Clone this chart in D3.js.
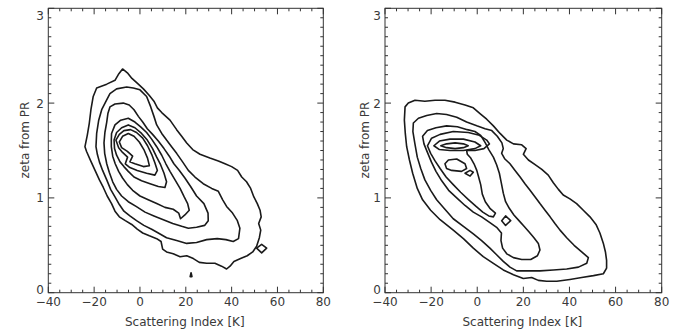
<!DOCTYPE html>
<html><head><meta charset="utf-8">
<script src="https://cdn.jsdelivr.net/npm/d3@7"></script>
<style>body{margin:0;background:#fff}svg{display:block}</style>
</head><body>
<svg id="c" width="684" height="335"></svg>
<script>
// ---------- data (x = Scattering Index [K], y = zeta from PR) ----------
const xTicks = [-40, -20, 0, 20, 40, 60, 80];
const yTicks = [0, 1, 2, 3];
const xTitle = "Scattering Index [K]";
const yTitle = "zeta from PR";

// left panel contour lines (closed)
const L1 = [[-24.0,1.54],[-23.0,1.66],[-22.1,1.79],[-21.4,1.93],[-20.4,2.07],[-18.9,2.16],[-14.5,2.20],[-10.9,2.24],[-9.2,2.31],[-7.6,2.36],[-5.5,2.32],[-3.5,2.26],[-1.2,2.21],[1.5,2.15],[4.1,2.08],[6.1,2.02],[7.6,1.95],[9.5,1.90],[13.1,1.82],[16.0,1.72],[18.2,1.65],[20.4,1.58],[23.0,1.51],[26.2,1.46],[30.5,1.42],[34.2,1.39],[37.1,1.36],[40.0,1.33],[42.6,1.29],[44.4,1.22],[46.5,1.17],[48.3,1.10],[49.7,1.01],[51.2,0.94],[52.4,0.87],[52.9,0.80],[51.8,0.73],[52.7,0.66],[52.1,0.58],[50.9,0.49],[49.2,0.43],[46.8,0.39],[43.9,0.36],[41.0,0.33],[39.3,0.28],[37.8,0.25],[35.6,0.28],[32.7,0.31],[29.1,0.31],[25.9,0.32],[23.3,0.36],[20.4,0.39],[17.5,0.38],[14.5,0.41],[11.6,0.43],[9.9,0.46],[9.2,0.54],[7.3,0.57],[4.1,0.60],[1.2,0.63],[-1.2,0.67],[-3.6,0.72],[-6.4,0.76],[-9.0,0.80],[-10.9,0.86],[-12.4,0.94],[-14.3,1.02],[-16.0,1.11],[-17.7,1.19],[-19.6,1.29],[-21.5,1.39],[-23.3,1.49]];
const L2 = [[-19.2,1.54],[-18.9,1.68],[-18.0,1.82],[-16.7,1.93],[-14.8,2.02],[-13.1,2.10],[-10.2,2.15],[-5.8,2.17],[-2.9,2.16],[0,2.14],[2.9,2.07],[4.7,1.96],[6.1,1.86],[7.3,1.77],[9.5,1.68],[11.6,1.61],[13.8,1.54],[16.0,1.47],[18.6,1.38],[21.1,1.29],[24.0,1.22],[27.6,1.15],[31.3,1.10],[34.2,1.07],[36.1,0.98],[37.8,0.91],[40.4,0.84],[42.5,0.76],[43.6,0.68],[43.0,0.57],[40.7,0.54],[37.5,0.56],[33.7,0.57],[29.1,0.56],[24.7,0.53],[20.4,0.52],[16.0,0.55],[11.6,0.58],[8.0,0.63],[5.1,0.67],[1.7,0.71],[-1.5,0.76],[-4.4,0.81],[-7.0,0.86],[-9.0,0.93],[-10.9,1.01],[-12.8,1.09],[-14.5,1.19],[-16.3,1.29],[-17.7,1.38],[-18.6,1.46]];
const L3 = [[-13.1,1.96],[-10.9,1.99],[-7.3,2.00],[-4.7,1.98],[-2.6,1.93],[-0.7,1.86],[1.2,1.80],[3.2,1.73],[5.5,1.67],[8.0,1.60],[10.5,1.52],[12.8,1.44],[14.8,1.36],[17.2,1.29],[19.6,1.21],[22.1,1.12],[24.7,1.02],[27.9,0.94],[29.7,0.84],[29.8,0.76],[28.2,0.71],[24.7,0.69],[21.1,0.68],[18.2,0.70],[14.3,0.73],[10.2,0.77],[6.1,0.81],[2.2,0.85],[-1.7,0.91],[-5.1,0.96],[-8.0,1.02],[-10.2,1.09],[-11.9,1.17],[-13.4,1.27],[-14.5,1.36],[-15.4,1.47],[-15.7,1.58],[-15.3,1.69],[-14.5,1.80],[-14.0,1.89]];
const L4 = [[-12.4,1.68],[-10.9,1.77],[-8.4,1.82],[-5.1,1.84],[-2.2,1.80],[0.3,1.75],[2.9,1.69],[5.1,1.62],[7.3,1.54],[9.5,1.45],[11.3,1.36],[13.1,1.28],[15.3,1.19],[17.5,1.10],[19.3,1.01],[20.8,0.94],[21.5,0.87],[19.6,0.82],[17.7,0.78],[16.9,0.84],[14.5,0.88],[10.9,0.90],[7.3,0.94],[3.6,0.98],[0,1.02],[-3.2,1.08],[-5.5,1.14],[-7.6,1.21],[-9.3,1.28],[-10.8,1.36],[-11.9,1.44],[-12.5,1.54],[-12.5,1.61]];
const L5 = [[-11.3,1.61],[-10.2,1.69],[-8.0,1.74],[-5.1,1.77],[-2.2,1.74],[0.7,1.68],[3.2,1.61],[5.5,1.52],[7.3,1.43],[9.0,1.35],[10.5,1.26],[11.6,1.17],[10.9,1.11],[8.0,1.12],[4.4,1.15],[0.7,1.18],[-2.6,1.22],[-5.1,1.28],[-7.0,1.33],[-8.7,1.38],[-10.2,1.45],[-11.1,1.52]];
const L6 = [[-10.5,1.61],[-9.0,1.67],[-7.0,1.71],[-4.1,1.72],[-1.5,1.69],[1.2,1.63],[3.3,1.55],[5.1,1.46],[6.5,1.37],[7.6,1.29],[6.5,1.24],[2.9,1.26],[-1.2,1.29],[-4.4,1.32],[-6.4,1.36],[-5.4,1.43],[-7.6,1.48],[-9.3,1.53]];
const L7 = [[-9.0,1.59],[-7.6,1.65],[-5.1,1.68],[-2.6,1.65],[-0.3,1.59],[1.7,1.51],[3.3,1.42],[4.1,1.34],[1.5,1.33],[-2.2,1.36],[-4.4,1.38],[-3.2,1.44],[-5.5,1.49],[-8.0,1.53]];
const L8 = [[50.9,0.47],[53.1,0.51],[55.3,0.47],[53.1,0.42]];
const L9 = [[21.9,0.17],[22.7,0.17],[22.3,0.21]];

// right panel contour lines (closed)
const R1 = [[-31.3,1.96],[-29.9,2.00],[-27.0,2.03],[-22.7,2.02],[-18.3,2.03],[-14.0,2.03],[-9.6,2.01],[-5.3,1.98],[-1.7,1.95],[1.2,1.89],[4.1,1.83],[7.0,1.76],[9.9,1.68],[12.8,1.61],[15.7,1.57],[19.3,1.56],[21.2,1.52],[20.0,1.46],[22.2,1.40],[25.1,1.35],[28.0,1.30],[30.8,1.24],[33.0,1.16],[35.2,1.09],[37.3,1.03],[40.2,0.99],[43.1,0.94],[46.0,0.87],[48.9,0.80],[51.5,0.72],[53.2,0.63],[54.7,0.52],[55.6,0.43],[56.1,0.34],[56.1,0.26],[54.7,0.20],[50.4,0.18],[45.3,0.16],[40.2,0.14],[34.5,0.12],[30.1,0.12],[26.5,0.13],[23.6,0.16],[20.0,0.15],[15.7,0.19],[11.3,0.24],[7.0,0.31],[2.6,0.38],[-1.7,0.47],[-6.0,0.57],[-10.4,0.66],[-16.1,0.77],[-20.2,0.87],[-23.7,0.98],[-26.0,1.10],[-28.0,1.26],[-29.4,1.40],[-30.6,1.54],[-31.2,1.68],[-31.6,1.82]];
const R2 = [[-27.7,1.79],[-25.5,1.84],[-21.9,1.87],[-17.6,1.89],[-13.3,1.88],[-8.9,1.85],[-4.6,1.80],[-0.2,1.76],[3.4,1.73],[6.3,1.71],[8.7,1.65],[10.7,1.58],[11.3,1.52],[10.6,1.47],[12.0,1.41],[14.2,1.36],[16.4,1.29],[18.6,1.22],[20.7,1.15],[22.9,1.08],[25.1,1.01],[27.2,0.94],[29.4,0.87],[31.6,0.80],[33.7,0.73],[35.9,0.66],[38.8,0.58],[42.0,0.50],[45.3,0.43],[48.2,0.37],[47.5,0.31],[43.9,0.27],[38.8,0.25],[33.0,0.24],[27.2,0.23],[21.4,0.23],[17.1,0.23],[14.2,0.27],[11.3,0.33],[8.4,0.40],[5.5,0.47],[1.9,0.55],[-1.7,0.62],[-6.0,0.70],[-10.4,0.78],[-14.4,0.89],[-17.6,0.98],[-20.2,1.08],[-22.7,1.19],[-24.5,1.31],[-26.0,1.43],[-27.1,1.58],[-27.9,1.70]];
const R3 = [[-23.7,1.65],[-21.6,1.71],[-17.9,1.74],[-13.3,1.76],[-8.6,1.75],[-4.3,1.72],[-1.0,1.70],[1.5,1.66],[3.5,1.58],[5.0,1.51],[7.0,1.43],[8.4,1.35],[9.6,1.26],[10.5,1.15],[11.3,1.05],[12.3,0.96],[13.9,0.89],[15.9,0.82],[18.1,0.76],[20.3,0.70],[22.5,0.64],[24.6,0.58],[26.5,0.52],[27.2,0.45],[26.1,0.39],[23.2,0.35],[19.3,0.35],[15.7,0.37],[12.8,0.41],[11.0,0.47],[10.3,0.55],[10.5,0.63],[8.4,0.69],[5.5,0.74],[1.9,0.80],[-1.7,0.85],[-5.3,0.92],[-8.9,1.00],[-12.4,1.08],[-15.4,1.18],[-17.9,1.28],[-19.9,1.38],[-21.6,1.48],[-23.1,1.57]];
const R4 = [[-21.6,1.55],[-19.8,1.63],[-16.1,1.67],[-10.4,1.70],[-3.9,1.69],[0.9,1.66],[4.1,1.61],[5.3,1.57],[2.9,1.52],[-1.0,1.50],[-4.6,1.50],[-4.3,1.46],[-2.8,1.42],[-1.4,1.36],[-0.2,1.29],[0.6,1.22],[1.5,1.14],[2.2,1.04],[3.5,0.96],[5.5,0.89],[7.9,0.84],[7.0,0.80],[5.0,0.81],[2.4,0.85],[-0.5,0.91],[-3.7,0.98],[-7.2,1.06],[-10.4,1.14],[-13.5,1.22],[-16.1,1.31],[-18.3,1.39],[-20.2,1.47]];
const R5 = [[-18.8,1.55],[-16.4,1.60],[-11.8,1.62],[-6.0,1.62],[-1.0,1.59],[1.5,1.55],[-1.0,1.52],[-6.0,1.50],[-11.8,1.50],[-16.4,1.51]];
const R6 = [[-15.8,1.55],[-13.3,1.57],[-9.6,1.58],[-6.0,1.57],[-3.9,1.55],[-6.0,1.53],[-9.6,1.52],[-13.3,1.53]];
const R7 = [[-14.0,1.36],[-12.5,1.40],[-8.9,1.41],[-5.3,1.36],[-4.6,1.31],[-6.8,1.28],[-11.1,1.29],[-13.3,1.31]];
const R8 = [[-5.3,1.26],[-3.1,1.29],[-1.7,1.27],[-3.1,1.23]];
const R9 = [[10.6,0.76],[12.3,0.81],[14.5,0.76],[12.3,0.71]];

const leftLines = [L1, L2, L3, L4, L5, L6, L7, L8, L9];
const rightLines = [R1, R2, R3, R4, R5, R6, R7, R8, R9];

// ---------- drawing ----------
const svg = d3.select("#c");
const font = "'DejaVu Sans', Verdana, sans-serif";
const txtCol = "#3a3a3a";

function panel(x0, x1, lines, ylabX, ytitleX) {
  const top = 8.3, bottom = 292.7;
  const x = d3.scaleLinear().domain([-40, 80]).range([x0, x1]);
  const y = d3.scaleLinear().domain([0, 3]).range([bottom, top]);
  const g = svg.append("g");

  // contours
  const line = d3.line().x(d => x(d[0])).y(d => y(d[1])).curve(d3.curveLinearClosed);
  g.selectAll("path.ct").data(lines).join("path")
    .attr("class", "ct").attr("d", line)
    .attr("fill", "none").attr("stroke", "#1a1a1a").attr("stroke-width", 1.6)
    .attr("stroke-linejoin", "round");

  // axes (ticks inward on all sides)
  const xMinor = d3.range(-40, 80.001, 5);
  const yMinor = d3.range(0, 3.0001, 0.1);
  const tk = g.append("g").attr("stroke", "#333").attr("stroke-width", 1);
  xMinor.forEach(v => {
    const major = xTicks.some(t => Math.abs(t - v) < 1e-6);
    const len = major ? 6 : 3;
    tk.append("line").attr("x1", x(v)).attr("x2", x(v)).attr("y1", bottom).attr("y2", bottom - len);
    tk.append("line").attr("x1", x(v)).attr("x2", x(v)).attr("y1", top).attr("y2", top + len);
  });
  yMinor.forEach(v => {
    const major = yTicks.some(t => Math.abs(t - v) < 1e-6);
    const len = major ? 6 : 3;
    tk.append("line").attr("x1", x0).attr("x2", x0 + len).attr("y1", y(v)).attr("y2", y(v));
    tk.append("line").attr("x1", x1).attr("x2", x1 - len).attr("y1", y(v)).attr("y2", y(v));
  });
  g.append("rect").attr("x", x0).attr("y", top).attr("width", x1 - x0).attr("height", bottom - top)
    .attr("fill", "none").attr("stroke", "#333").attr("stroke-width", 1);

  g.selectAll("text.xt").data(xTicks).join("text").attr("class", "xt")
    .attr("x", d => x(d)).attr("y", 306).attr("text-anchor", "middle")
    .attr("font-family", font).attr("font-size", 12).attr("fill", txtCol)
    .text(d => d < 0 ? "\u2212" + Math.abs(d) : d);
  g.selectAll("text.yt").data(yTicks).join("text").attr("class", "yt")
    .attr("x", ylabX).attr("y", d => Math.min(289, Math.max(15, y(d))) + 4.5).attr("text-anchor", "end")
    .attr("font-family", font).attr("font-size", 12).attr("fill", txtCol)
    .text(d => d);
  g.append("text").attr("x", (x0 + x1) / 2 - 1).attr("y", 326).attr("text-anchor", "middle")
    .attr("font-family", font).attr("font-size", 12).attr("fill", txtCol).text(xTitle);
  g.append("text").attr("transform", `translate(${ytitleX},140) rotate(-90)`)
    .attr("text-anchor", "middle").attr("font-family", font).attr("font-size", 12)
    .attr("fill", txtCol).text(yTitle);
}

panel(48.3, 323.3, leftLines, 44, 29);
panel(385, 661.7, rightLines, 381, 369);
</script>
</body></html>
